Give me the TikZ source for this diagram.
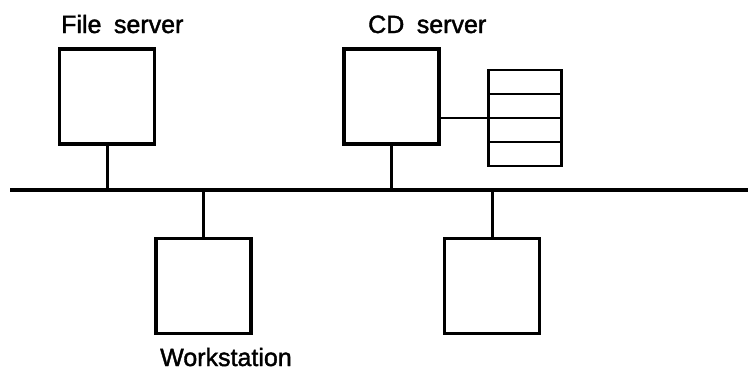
\documentclass[tikz,border=0pt]{standalone}
\usepackage{fontspec}
\setmainfont{Liberation Sans}
\newfontfamily\lblfont[FakeBold=1.6]{Liberation Sans}
\begin{document}
\begin{tikzpicture}[x=1pt,y=-1pt,
  box/.style={draw,line width=3.2pt,minimum width=95pt,minimum height=95pt,inner sep=0pt,outer sep=0pt},
  row/.style={draw,line width=2.8pt,minimum width=73pt,minimum height=24pt,inner sep=0pt,outer sep=0pt},
  wire/.style={line width=3pt},
  buswire/.style={line width=4.4pt},
  lbl/.style={anchor=base west,inner sep=0pt,font=\lblfont\fontsize{25}{30}\selectfont}]
\useasboundingbox (0,0) rectangle (748,370);
% boxes
\node[box] (fs) at (107,96.5) {};
\node[box] (cd) at (391.5,96.5) {};
\node[box] (ws) at (203.5,286) {};
\node[box] (w2) at (492,286) {};
% CD stack
\node[row] (s1) at (525,82) {};
\node[row,anchor=north] (s2) at (s1.south) {};
\node[row,anchor=north] (s3) at (s2.south) {};
\node[row,anchor=north] (s4) at (s3.south) {};
% bus
\coordinate (busL) at (10,190);
\coordinate (busR) at (748,190);
\draw[buswire] (busL) -- (busR);
\coordinate (b1) at (fs.south |- busL);
\coordinate (b2) at (cd.south |- busL);
\coordinate (b3) at (ws.north |- busL);
\coordinate (b4) at (w2.north |- busL);
\draw[wire] (fs.south) -- (b1);
\draw[wire] (cd.south) -- (b2);
\draw[wire] (ws.north) -- (b3);
\draw[wire] (w2.north) -- (b4);
\draw[line width=2.4pt] (cd.east |- s2.south) -- (s2.south west);
% labels
\node[lbl] (lfs) at (61,33) {File\hspace{0.5em}server};
\node[lbl] (lcd) at (368,33) {CD\hspace{0.5em}server};
\node[lbl] (lws) at (160,366) {Workstation};
\end{tikzpicture}
\end{document}
